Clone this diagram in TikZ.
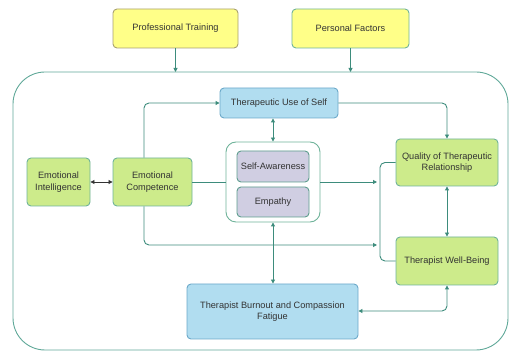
\documentclass[tikz,border=0pt]{standalone}
\usepackage{fontspec}
\setmainfont{Liberation Sans}
\usetikzlibrary{arrows.meta,calc}
\definecolor{lnc}{HTML}{3D8C7C}
\definecolor{cont}{HTML}{5FA898}
\definecolor{yfill}{HTML}{FFFF88}
\definecolor{gfill}{HTML}{CDEB8B}
\definecolor{gdraw}{HTML}{6FB39A}
\definecolor{bfill}{HTML}{B1DDF0}
\definecolor{bdraw}{HTML}{6CA9C9}
\definecolor{pfill}{HTML}{D0CEE2}
\definecolor{pdraw}{HTML}{5E9E8E}
\definecolor{ydraw}{HTML}{A8A070}
\tikzset{
  box/.style={rectangle,rounded corners=4pt,line width=0.9pt,align=center,inner sep=2pt,font=\fontsize{9.2}{11.5}\selectfont,text=black!80},
  ybox/.style={box,fill=yfill},
  gbox/.style={box,fill=gfill,draw=gdraw},
  bbox/.style={box,fill=bfill,draw=bdraw},
  pbox/.style={box,fill=pfill,draw=pdraw},
  conn/.style={draw=lnc,line width=0.9pt,rounded corners=5pt},
  tip/.style={-{Triangle[length=4pt,width=4pt]}},
  tips/.style={{Triangle[length=4pt,width=4pt]}-{Triangle[length=4pt,width=4pt]}},
}
\begin{document}
\begin{tikzpicture}[x=1pt,y=-1pt]
\useasboundingbox (0,0) rectangle (509,352);
\begin{scope}
\clip (0,0) rectangle (509,352);
\draw[cont,line width=0.9pt,rounded corners=32pt] (13,72) rectangle (508,350);
\end{scope}
\coordinate (ctop) at (0,72);
% nodes
\node[ybox,draw=ydraw,minimum width=125pt,minimum height=39pt] (pt) at (175.5,28.5) {Professional Training};
\node[ybox,draw=gdraw,minimum width=117pt,minimum height=39pt] (pf) at (350.5,28.5) {Personal Factors};
\node[bbox,minimum width=118pt,minimum height=30pt] (tus) at (279,103) {Therapeutic Use of Self};
\node[gbox,minimum width=63pt,minimum height=48pt] (ei) at (58.5,182) {Emotional\\Intelligence};
\node[gbox,minimum width=79pt,minimum height=48pt] (ec) at (152.5,182) {Emotional\\Competence};
\node[box,draw=gdraw,fill=white,rounded corners=10pt,minimum width=94pt,minimum height=80pt] (inner) at (273,182) {};
\node[pbox,minimum width=72pt,minimum height=31pt] (sa) at (273,166.5) {Self-Awareness};
\node[pbox,minimum width=72pt,minimum height=30pt] (emp) at (273,202) {Empathy};
\node[gbox,minimum width=102pt,minimum height=47pt] (qtr) at (447,162.5) {Quality of Therapeutic\\Relationship};
\node[gbox,minimum width=102pt,minimum height=48pt] (twb) at (447,261) {Therapist Well-Being};
\node[bbox,minimum width=171pt,minimum height=55pt] (tb) at (272.5,311.5) {Therapist Burnout and Compassion\\Fatigue};
% coordinates
\coordinate (bx) at (380,0);
\coordinate (ax) at (377,0);
\coordinate (ecx) at (144,0);
\coordinate (low) at (0,245);
\coordinate (tby) at (0,311);
% connectors
\draw[conn,tip] (pt.south) -- (pt.south |- ctop);
\draw[conn,tip] (pf.south) -- (pf.south |- ctop);
\draw[line width=0.8pt,draw=black!80,{Triangle[length=4pt,width=4pt]}-{Triangle[length=4pt,width=4pt]}] (ei.east) -- (ec.west);
\draw[conn,tip] (ecx |- ec.north) -- (ecx |- tus.west) -- (tus.west);
\draw[conn,tip] (tus.east) -- (tus.east -| qtr.north) -- (qtr.north);
\draw[conn,tips] (tus.south -| inner.north) -- (inner.north);
\draw[conn] (ec.east) -- (inner.west);
\draw[conn,tip] (inner.east) -- (inner.east -| ax);
\draw[conn,tip] (ecx |- ec.south) -- (ecx |- low) -- (ax |- low);
\draw[conn] (qtr.west) -- (bx |- qtr.west) -- (bx |- twb.west) -- (twb.west);
\draw[conn,tips] (qtr.south) -- (twb.north);
\draw[conn,tips] (inner.south) -- (inner.south |- tb.north);
\draw[conn,tips] (twb.south) -- (twb.south |- tby) -- (tb.east |- tby);
\end{tikzpicture}
\end{document}
